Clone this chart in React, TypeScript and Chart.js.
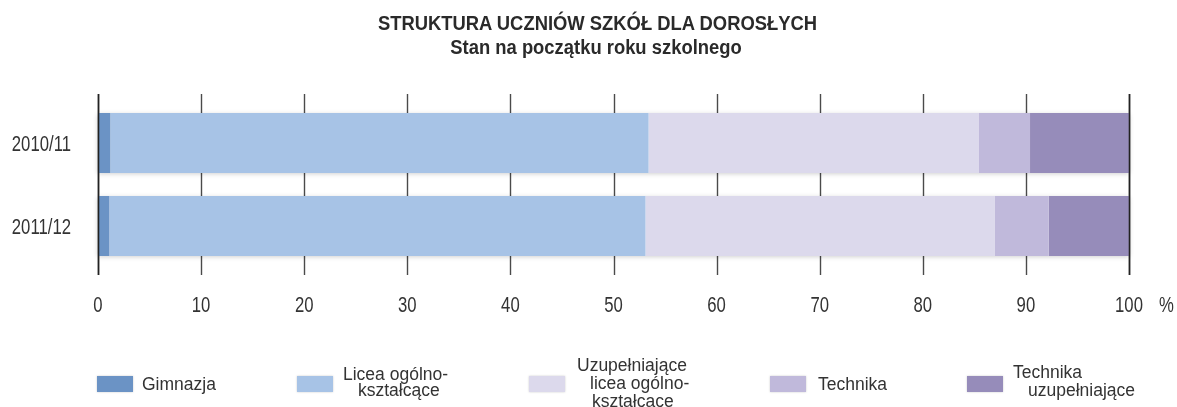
import React, { useEffect, useRef } from 'react';
import { Chart, registerables } from 'chart.js';

Chart.register(...registerables);

const CATEGORIES = ['2010/11', '2011/12'];
const SERIES_NAMES = [
  'Gimnazja',
  'Licea ogólnokształcące',
  'Uzupełniające licea ogólnokształcące',
  'Technika',
  'Technika uzupełniające',
];
const GIMNAZJA = [1.2, 1.1];
const LICEA = [52.2, 52.0];
const UZUP_LICEA = [32.0, 33.9];
const TECHNIKA = [5.0, 5.2];
const TECHNIKA_UZUP = [9.6, 7.8];
const SERIES_VALUES = [GIMNAZJA, LICEA, UZUP_LICEA, TECHNIKA, TECHNIKA_UZUP];

const X_MIN = 0;
const X_MAX = 100;
const X_STEP = 10;
const UNIT_LABEL = '%';

const TITLE = 'STRUKTURA UCZNIÓW SZKÓŁ DLA DOROSŁYCH';
const SUBTITLE = 'Stan na początku roku szkolnego';

const LEGEND_LINES = [
  ['Gimnazja'],
  ['Licea ogólno-', 'kształcące'],
  ['Uzupełniające', 'licea ogólno-', 'kształcące'],
  ['Technika'],
  ['Technika', 'uzupełniające'],
];

// styles
const COLORS = ['#6b93c5', '#a7c3e6', '#dcd9ec', '#c0b9db', '#968cba'];
const TEXT = '#333333';
const SANS = '"Liberation Sans", Arial, sans-serif';
const TICK_FONT_SIZE = 22;
const TICK_SQUEEZE = 0.76;

// legend layout: box left, and each line's [left, baseline]
const LEGEND_BOX_X = [97, 297, 529, 770, 967];
const LEGEND_LINE_POS = [
  [[142, 390]],
  [[343, 380], [358, 396]],
  [[577, 371], [590, 389], [592, 407]],
  [[818, 390]],
  [[1013, 378], [1028, 396]],
];

function squeezedText(ctx: any, text: string, x: number, baseline: number, align: string) {
  ctx.save();
  ctx.translate(x, baseline);
  ctx.scale(TICK_SQUEEZE, 1);
  ctx.textAlign = align;
  ctx.textBaseline = 'alphabetic';
  ctx.fillText(text, 0, 0);
  ctx.restore();
}

const gridPlugin = {
  id: 'customGrid',
  beforeDatasetsDraw(chart: any) {
    const { ctx, chartArea } = chart;
    const xs = chart.scales.x;
    ctx.save();
    ctx.strokeStyle = '#4a4a4a';
    ctx.lineWidth = 1.4;
    xs.ticks.forEach((t: any) => {
      const px = Math.round(xs.getPixelForValue(t.value)) + 0.5;
      ctx.beginPath();
      ctx.moveTo(px, chartArea.top - 7.5);
      ctx.lineTo(px, chartArea.bottom + 7.5);
      ctx.stroke();
    });
    // soft shadow behind each full bar
    const n = chart.data.datasets.length;
    const firstMeta = chart.getDatasetMeta(0);
    const lastMeta = chart.getDatasetMeta(n - 1);
    firstMeta.data.forEach((el: any, i: number) => {
      const last: any = lastMeta.data[i];
      const x0 = el.base;
      const x1 = last.x;
      const h = el.height;
      ctx.save();
      ctx.shadowColor = 'rgba(0,0,0,0.22)';
      ctx.shadowBlur = 5;
      ctx.shadowOffsetX = 0;
      ctx.shadowOffsetY = 1;
      ctx.fillStyle = '#ffffff';
      ctx.fillRect(x0, el.y - h / 2, x1 - x0, h);
      ctx.restore();
    });
    ctx.restore();
  },
  afterDatasetsDraw(chart: any) {
    const { ctx, chartArea } = chart;
    const xs = chart.scales.x;
    const ys = chart.scales.y;
    ctx.save();
    ctx.strokeStyle = '#222222';
    ctx.lineWidth = 1.6;
    [X_MIN, X_MAX].forEach((v) => {
      const px = Math.round(xs.getPixelForValue(v)) + 0.5;
      ctx.beginPath();
      ctx.moveTo(px, chartArea.top - 7.5);
      ctx.lineTo(px, chartArea.bottom + 7.5);
      ctx.stroke();
    });
    // condensed tick labels
    ctx.fillStyle = TEXT;
    ctx.font = `${TICK_FONT_SIZE}px ${SANS}`;
    const xBase = chartArea.bottom + 44;
    xs.ticks.forEach((t: any) => {
      squeezedText(ctx, String(t.value), xs.getPixelForValue(t.value), xBase, 'center');
    });
    squeezedText(ctx, UNIT_LABEL, xs.getPixelForValue(X_MAX) + 37.5, xBase, 'center');
    ys.ticks.forEach((t: any, i: number) => {
      const py = ys.getPixelForTick(i);
      squeezedText(ctx, ys.getLabelForValue(t.value), chartArea.left - 27, py + 8, 'right');
    });
    ctx.restore();
  },
};

export default function App() {
  const ref = useRef<HTMLCanvasElement | null>(null);

  useEffect(() => {
    document.body.style.margin = '0';
    if (!ref.current) return;
    const chart = new Chart(ref.current, {
      type: 'bar',
      data: {
        labels: CATEGORIES,
        datasets: SERIES_VALUES.map((vals, i) => ({
          label: SERIES_NAMES[i],
          data: vals,
          backgroundColor: COLORS[i],
          borderWidth: 0,
          categoryPercentage: 1,
          barPercentage: 0.723,
        })),
      },
      options: {
        indexAxis: 'y',
        responsive: false,
        animation: false,
        devicePixelRatio: 1,
        layout: { padding: { top: 101.5, right: 48, bottom: 0, left: 0 } },
        plugins: {
          legend: { display: false },
          title: { display: false },
          tooltip: { enabled: false },
        },
        scales: {
          x: {
            stacked: true,
            min: X_MIN,
            max: X_MAX,
            grid: { display: false },
            border: { display: false },
            ticks: { stepSize: X_STEP, display: false },
            afterFit: (s: any) => {
              s.height = 139.5;
            },
          },
          y: {
            stacked: true,
            grid: { display: false },
            border: { display: false },
            ticks: { display: false },
            afterFit: (s: any) => {
              s.width = 98;
            },
          },
        },
      },
      plugins: [gridPlugin],
    });
    return () => chart.destroy();
  }, []);

  const fs = 17.5;
  const baseOff = 14.5;

  const titleStyle: any = {
    position: 'absolute',
    left: 0,
    width: 1195,
    textAlign: 'center',
    fontFamily: SANS,
    fontWeight: 'bold',
    fontSize: 20,
    lineHeight: '20px',
    color: '#2a2a2a',
    transform: 'scaleX(0.92)',
    transformOrigin: '597.5px 0',
    whiteSpace: 'nowrap',
  };

  return (
    <div style={{ position: 'fixed', left: 0, top: 0, width: 1177, height: 407, background: '#fff', overflow: 'hidden' }}>
      <canvas ref={ref} width={1177} height={407} style={{ position: 'absolute', left: 0, top: 0, width: 1177, height: 407 }} />
      <div style={{ ...titleStyle, top: 12.7 }}>{TITLE}</div>
      <div style={{ ...titleStyle, top: 36.7, width: 1192, transformOrigin: '596px 0' }}>{SUBTITLE}</div>
      {LEGEND_LINES.map((lines, i) => (
        <React.Fragment key={i}>
          <div style={{ position: 'absolute', left: LEGEND_BOX_X[i], top: 376, width: 36, height: 16, background: COLORS[i], boxShadow: '0 0 2px rgba(0,0,0,0.2)' }} />
          {lines.map((t, j) => (
            <div
              key={j}
              style={{
                position: 'absolute',
                left: LEGEND_LINE_POS[i][j][0],
                top: LEGEND_LINE_POS[i][j][1] - baseOff,
                fontFamily: SANS,
                fontSize: fs,
                lineHeight: `${fs}px`,
                color: TEXT,
                whiteSpace: 'nowrap',
              }}
            >
              {t}
            </div>
          ))}
        </React.Fragment>
      ))}
    </div>
  );
}
